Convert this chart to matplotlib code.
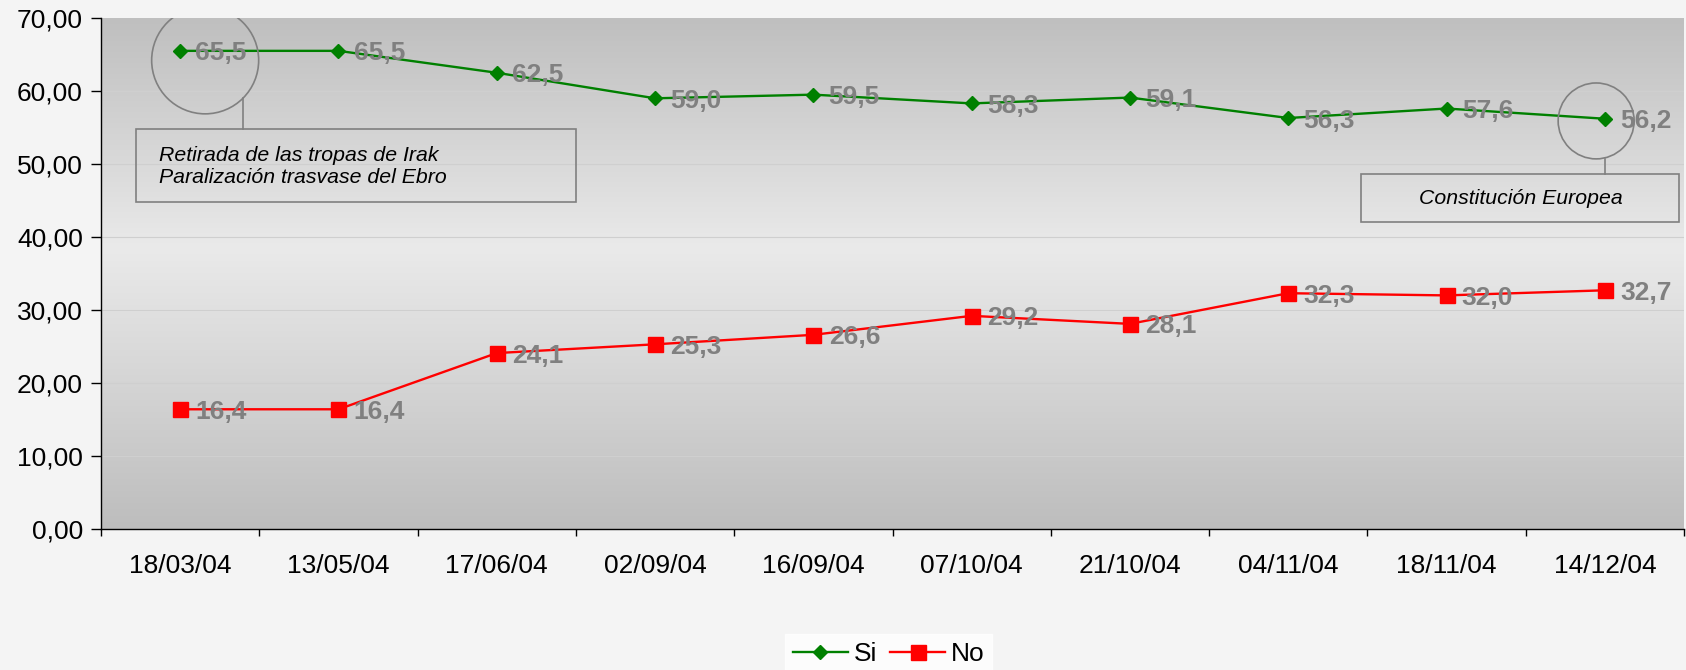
import numpy as np
import matplotlib
matplotlib.use('Agg')
import matplotlib.pyplot as plt
from matplotlib.patches import Ellipse, Rectangle
from matplotlib.colors import LinearSegmentedColormap

plt.rcParams['font.family'] = ['Liberation Sans', 'DejaVu Sans']

# data
fechas = ['18/03/04', '13/05/04', '17/06/04', '02/09/04', '16/09/04',
          '07/10/04', '21/10/04', '04/11/04', '18/11/04', '14/12/04']
si = [65.5, 65.5, 62.5, 59.0, 59.5, 58.3, 59.1, 56.3, 57.6, 56.2]
no = [16.4, 16.4, 24.1, 25.3, 26.6, 29.2, 28.1, 32.3, 32.0, 32.7]
y_ticks = [0, 10, 20, 30, 40, 50, 60, 70]

nota_1 = 'Retirada de las tropas de Irak\nParalización trasvase del Ebro'
nota_2 = 'Constitución Europea'

fig = plt.figure(figsize=(16.86, 6.70), dpi=100)
fig.patch.set_facecolor('#f4f4f4')
ax = fig.add_axes([101 / 1686, 1 - 529 / 670, (1684 - 101) / 1686, (529 - 18) / 670])

# grey gradient behind the plot area (dark top and bottom, light in the middle)
cmap = LinearSegmentedColormap.from_list('fondo', [
    (0.0, '#bfbfbf'), (0.28, '#d9d9d9'), (0.45, '#eaeaea'),
    (0.70, '#d6d6d6'), (1.0, '#bdbdbd')])
grad = np.linspace(0, 1, 256).reshape(-1, 1)
ax.imshow(grad, cmap=cmap, aspect='auto', extent=[0, 1, 0, 1],
          transform=ax.transAxes, zorder=0)

x = np.arange(len(fechas))
ax.set_xlim(-0.5, len(fechas) - 0.5)
ax.set_ylim(0, 70)

for v in y_ticks[1:-1]:
    ax.axhline(v, color='#cfcfcf', lw=0.8, zorder=1)

ax.plot(x, si, color='#008000', lw=1.7, marker='D', markersize=7.5, label='Si', zorder=3)
ax.plot(x, no, color='#ff0000', lw=1.7, marker='s', markersize=10.8, label='No', zorder=3)

for serie in (si, no):
    for xi, v in zip(x, serie):
        ax.annotate(('%.1f' % v).replace('.', ','), (xi, v), xytext=(11, 0),
                    textcoords='offset points', ha='left', va='center_baseline',
                    fontsize=19, fontweight='bold', color='#808080', zorder=4)

# callouts
gris = '#808080'
ax.add_patch(Ellipse((x[0] + 0.158, 64.2), 0.676, 14.66, fill=False,
                     ec=gris, lw=1.2, zorder=5))
ax.plot([0.398, 0.398], [59.0, 54.8], color=gris, lw=1.2, zorder=5)
ax.add_patch(Rectangle((-0.278, 44.8), 2.78, 10.0, fill=False, ec=gris, lw=1.2, zorder=5))
ax.text(-0.133, 49.65, nota_1, ha='left', va='center', fontsize=15.3, style='italic',
        linespacing=1.2, zorder=5)

ax.add_patch(Ellipse((x[-1] - 0.055, 55.9), 0.48, 10.4, fill=False,
                     ec=gris, lw=1.2, zorder=5))
ax.plot([9.0, 9.0], [50.7, 48.6], color=gris, lw=1.2, zorder=5)
ax.add_patch(Rectangle((7.46, 42.1), 2.01, 6.5, fill=False, ec=gris, lw=1.2, zorder=5))
ax.text(8.47, 45.3, nota_2, ha='center', va='center', fontsize=15.3, style='italic', zorder=5)

# axes
ax.spines['top'].set_visible(False)
ax.spines['right'].set_visible(False)
ax.spines['left'].set_linewidth(1.0)
ax.spines['bottom'].set_linewidth(1.0)
ax.set_yticks(y_ticks)
ax.set_yticklabels([('%.2f' % v).replace('.', ',') for v in y_ticks])
ax.set_xticks(x)
ax.set_xticklabels(fechas)
ax.set_xticks(np.arange(len(fechas) + 1) - 0.5, minor=True)
ax.tick_params(axis='x', which='major', length=0, pad=18, labelsize=19)
ax.tick_params(axis='x', which='minor', length=5, width=1.0, direction='out')
ax.tick_params(axis='y', length=7, width=1.0, pad=6, labelsize=19)

leg = fig.legend(loc='center', bbox_to_anchor=(0.527, 0.024), ncol=2, fontsize=19,
                 frameon=True, fancybox=False, handlelength=2.1, handletextpad=0.2,
                 columnspacing=0.5, borderpad=0.3)
leg.get_frame().set_facecolor('white')
leg.get_frame().set_edgecolor('white')

fig.savefig('out.png', dpi=100, facecolor=fig.get_facecolor())
